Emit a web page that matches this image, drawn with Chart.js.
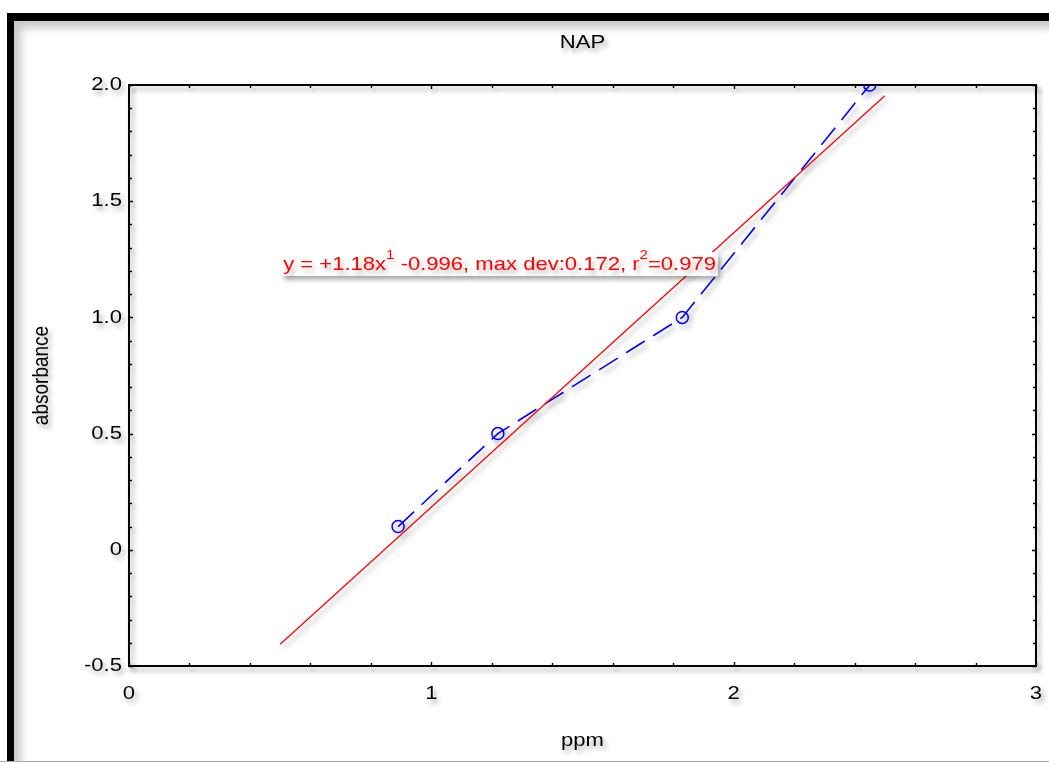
<!DOCTYPE html>
<html><head><meta charset="utf-8">
<script src="https://cdn.jsdelivr.net/npm/chart.js@4.4.1/dist/chart.umd.min.js"></script>
<style>
html,body{margin:0;padding:0;background:#fff;width:1049px;height:762px;overflow:hidden;}
#frame{position:absolute;left:7px;top:13px;width:1042px;height:749px;border-top:8px solid #000;border-left:7px solid #000;box-sizing:border-box;box-shadow:inset 7px 7px 9px rgba(0,0,0,0.22);}
#bline{position:absolute;left:0;top:761px;width:1049px;height:1px;background:#aaa;}
canvas{position:absolute;left:0;top:0;}
</style></head><body>
<div id="frame"></div><div id="bline"></div>
<canvas id="c" width="1049" height="762"></canvas>
<script>
const chartTitle = 'NAP';
const xTitle = 'ppm';
const yTitle = 'absorbance';
const measuredX = [0.89, 1.22, 1.83, 2.45];
const measuredY = [0.10, 0.50, 1.00, 2.00];
const fitX = [0.5, 2.5];
const fitY = [-0.406, 1.954];
const xTickLabels = ['0', '1', '2', '3'];
const yTickLabels = ['-0.5', '0', '0.5', '1.0', '1.5', '2.0'];
const fitLabelParts = [
  ['y = +1.18x', false], ['1', true], [' -0.996, max dev:0.172, r', false], ['2', true], ['=0.979', false]
];

const FONT = '"Liberation Sans", Arial, sans-serif';
const SX = 1.16; // horizontal text stretch seen in the reference

const canvas = document.getElementById('c');
const ctx0 = canvas.getContext('2d');
const origFill = ctx0.fillText.bind(ctx0);
ctx0.fillText = function (text, x, y, maxW) {
  const m = this.getTransform();
  const p = m.transformPoint(new DOMPoint(x, y));
  const nm = new DOMMatrix().translate(p.x, p.y).scale(SX, 1).translate(-p.x, -p.y).multiply(m);
  this.setTransform(nm);
  if (maxW !== undefined) origFill(text, x, y, maxW / SX); else origFill(text, x, y);
  this.setTransform(m);
};

const shadowPlugin = {
  id: 'shadow',
  beforeDraw(c) {
    const ctx = c.ctx; ctx.save();
    ctx.shadowColor = 'rgba(0,0,0,0.35)';
    ctx.shadowOffsetX = 3; ctx.shadowOffsetY = 4; ctx.shadowBlur = 5;
  },
  afterDraw(c) { c.ctx.restore(); }
};

const boxPlugin = {
  id: 'box',
  beforeDatasetsDraw(c) {
    const ctx = c.ctx, a = c.chartArea;
    ctx.save();
    ctx.strokeStyle = '#000'; ctx.lineWidth = 2;
    ctx.strokeRect(a.left, a.top, a.right - a.left, a.bottom - a.top);
    ctx.lineWidth = 1.4;
    const xs = c.scales.x, ys = c.scales.y;
    ctx.beginPath();
    xs.ticks.forEach(t => {
      const p = Math.round(xs.getPixelForValue(t.value)) + 0.5;
      const major = Math.abs(t.value - Math.round(t.value)) < 1e-6;
      const L = major ? 4 : 3;
      ctx.moveTo(p, a.bottom); ctx.lineTo(p, a.bottom - L);
      ctx.moveTo(p, a.top); ctx.lineTo(p, a.top + L);
    });
    ys.ticks.forEach(t => {
      const p = Math.round(ys.getPixelForValue(t.value)) + 0.5;
      const major = Math.abs(t.value * 2 - Math.round(t.value * 2)) < 1e-6;
      const L = major ? 4 : 3;
      ctx.moveTo(a.left, p); ctx.lineTo(a.left + L, p);
      ctx.moveTo(a.right, p); ctx.lineTo(a.right - L, p);
    });
    ctx.stroke();
    ctx.restore();
  }
};

const labelPlugin = {
  id: 'fitLabel',
  afterDatasetsDraw(c) {
    const ctx = c.ctx;
    const x0 = c.scales.x.getPixelForValue(0.51);
    const y0 = c.scales.y.getPixelForValue(1.23);
    const big = '19px ' + FONT, small = '13px ' + FONT;
    ctx.save();
    let w = 0;
    fitLabelParts.forEach(([s, sup]) => { ctx.font = sup ? small : big; w += ctx.measureText(s).width * SX; });
    ctx.fillStyle = '#fff';
    ctx.fillRect(x0 - 2, y0 - 12, w + 4, 24);
    ctx.shadowColor = 'rgba(0,0,0,0.3)';
    ctx.fillStyle = '#ff0000';
    ctx.textBaseline = 'middle';
    ctx.textAlign = 'left';
    let x = x0;
    fitLabelParts.forEach(([s, sup]) => {
      ctx.font = sup ? small : big;
      ctx.fillText(s, x, sup ? y0 - 9 : y0 + 1);
      x += ctx.measureText(s).width * SX;
    });
    ctx.restore();
  }
};

new Chart(canvas, {
  type: 'scatter',
  data: {
    datasets: [
      {
        label: 'fit',
        data: fitX.map((x, i) => ({x, y: fitY[i]})),
        showLine: true,
        borderColor: '#ff0000',
        borderWidth: 1.3,
        pointRadius: 0,
        fill: false
      },
      {
        label: 'measured',
        data: measuredX.map((x, i) => ({x, y: measuredY[i]})),
        showLine: true,
        borderColor: '#0000ff',
        borderWidth: 1.6,
        borderDash: [22, 10],
        pointRadius: 6,
        pointBorderWidth: 1.5,
        pointBackgroundColor: 'rgba(0,0,0,0)',
        pointBorderColor: '#0000ff',
        fill: false
      }
    ]
  },
  options: {
    responsive: false,
    animation: false,
    layout: { padding: { left: 0, right: 13, top: 0, bottom: 0 } },
    plugins: {
      legend: { display: false },
      tooltip: { enabled: false },
      title: {
        display: true, text: chartTitle, color: '#000', fullSize: false,
        font: { family: FONT, size: 19, weight: 'normal' },
        padding: { top: 31.6, bottom: 30.6 }
      }
    },
    scales: {
      x: {
        type: 'linear', min: 0, max: 3,
        grid: { display: false, drawTicks: false }, border: { display: false },
        ticks: {
          stepSize: 0.2, autoSkip: false, maxRotation: 0, padding: 16, color: '#000',
          font: { family: FONT, size: 19 },
          callback: v => Math.abs(v - Math.round(v)) < 1e-6 ? xTickLabels[Math.round(v)] : ''
        },
        title: { display: true, text: xTitle, color: '#000', font: { family: FONT, size: 19 }, padding: { top: 0, bottom: 9.6 } },
        afterFit: s => { s.height = 96; s.paddingLeft = 0; s.paddingRight = 0; }
      },
      y: {
        type: 'linear', min: -0.5, max: 2,
        grid: { display: false, drawTicks: false }, border: { display: false },
        ticks: {
          stepSize: 0.1, autoSkip: false, padding: 7, color: '#000',
          font: { family: FONT, size: 19 },
          callback: v => Math.abs(v * 2 - Math.round(v * 2)) < 1e-6 ? yTickLabels[Math.round((v + 0.5) * 2)] : ''
        },
        title: { display: true, text: yTitle, color: '#000', font: { family: FONT, size: 19 }, padding: { top: 30.6, bottom: 0 } },
        afterFit: s => { s.width = 129; s.paddingTop = 0; s.paddingBottom = 0; }
      }
    }
  },
  plugins: [shadowPlugin, boxPlugin, labelPlugin]
});
</script>
</body></html>
